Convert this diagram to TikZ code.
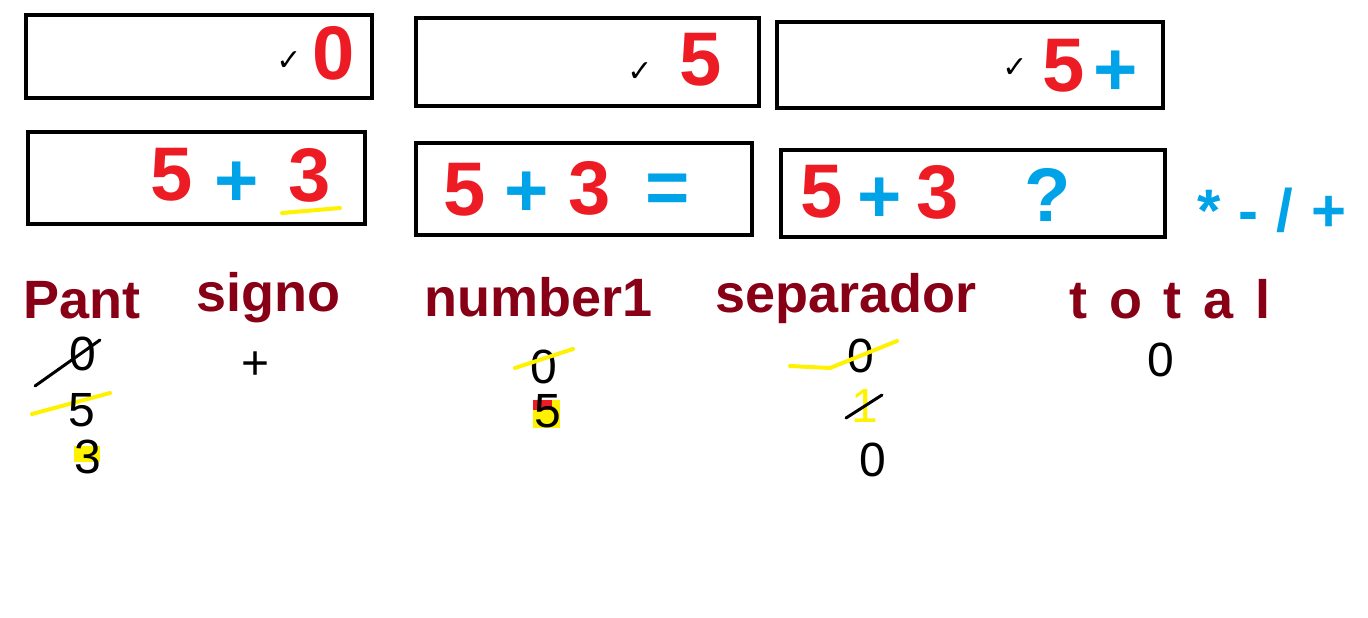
\documentclass[tikz,border=0pt]{standalone}
\usepackage{fontspec}
\setmainfont{Liberation Sans}
\newfontfamily\symfont{DejaVu Sans}
\definecolor{paintred}{HTML}{ED1C24}
\definecolor{paintblue}{HTML}{00A2E8}
\definecolor{paintdark}{HTML}{880015}
\definecolor{paintyellow}{HTML}{FFF200}
\begin{document}
\begin{tikzpicture}[x=1pt,y=-1pt,
  screen/.style={draw,line width=4pt,inner sep=0pt},
  num/.style={text=paintred,font=\fontsize{76}{76}\selectfont\bfseries,inner sep=0pt},
  op/.style={text=paintblue,font=\fontsize{76}{76}\selectfont\bfseries,inner sep=0pt},
  tick/.style={font=\symfont\fontsize{30}{30}\selectfont\bfseries,inner sep=0pt},
  varname/.style={text=paintdark,font=\fontsize{54}{54}\selectfont\bfseries,anchor=base,inner sep=0pt},
  note/.style={font=\fontsize{48}{48}\selectfont,inner sep=0pt},
  hl/.style={draw=paintyellow,line width=4pt,line cap=round},
  strike/.style={draw,line width=3pt,line cap=round}]
\useasboundingbox (0,0) rectangle (1368,618);

% First row of screens
\node[screen,minimum width=346pt,minimum height=83pt] (scrA) at (199,56.5) {};
\node[tick] (tickA) at (289,61) {✓};
\node[num] (numA) at (334,53) {0};

\node[screen,minimum width=343pt,minimum height=88pt] (scrB) at (587.5,62) {};
\node[tick] (tickB) at (640,72) {✓};
\node[num] (numB) at (701,60) {5};

\node[screen,minimum width=386pt,minimum height=86pt] (scrC) at (970,65) {};
\node[tick] (tickC) at (1015,68) {✓};
\node[num] (numC) at (1064,66) {5};
\node[op] (opC) at (1116,73) {+};

% Second row of screens
\node[screen,minimum width=337pt,minimum height=92pt] (scrD) at (196.5,178) {};
\node[num] (numD) at (172,175) {5};
\node[op] (opD) at (237,184) {+};
\node[num] (numDb) at (310,175) {3};
\draw[hl] (282,213) -- (340,208);

\node[screen,minimum width=336pt,minimum height=92pt] (scrE) at (584,189) {};
\node[num] (numE) at (465,190) {5};
\node[op] (opE) at (527,194) {+};
\node[num] (numEb) at (590,188) {3};
\node[op] (opEb) at (668,194) {=};

\node[screen,minimum width=384pt,minimum height=87pt] (scrF) at (973,193.5) {};
\node[num] (numF) at (822,192) {5};
\node[op] (opF) at (880,200) {+};
\node[num] (numFb) at (938,192) {3};
\node[op] (opFb) at (1048,195) {?};
\node[op,font=\fontsize{60}{60}\selectfont\bfseries\addfontfeature{LetterSpace=30}] (ops) at (1272,210) {*-/+};

% Variable names
\node[varname] (pant) at (82,318) {Pant};
\node[varname] (signo) at (268,311) {signo};
\node[varname] (number) at (539,316) {number1};
\node[varname] (separador) at (846,312) {separador};
\node[varname,font=\fontsize{54}{54}\selectfont\bfseries\addfontfeature{LetterSpace=40}] (total) at (1170,318) {total};

% Values under Pant
\node[note] (pant0) at (83,354) {0};
\draw[strike] (35,386) -- (100,340);
\fill[paintyellow] (74,446) rectangle (100,462);
\draw[hl] (32,414) -- (110,393);
\node[note] (pant5) at (82,410) {5};
\node[note] (pant3) at (88,457) {3};

% Value under signo
\node[note] (signoplus) at (256,366) {+};

% Values under number1
\node[note] (num0) at (544,367) {0};
\draw[hl] (515,368) -- (573,349);
\fill[paintyellow] (533,400) rectangle (560,428);
\fill[paintred] (533,400) rectangle (552,410);
\node[note] (num5) at (548,411) {5};

% Values under separador
\node[note] (sep0) at (861,356) {0};
\draw[hl] (790,366) -- (830,368) -- (897,341);
\node[note,text=paintyellow] (sep1) at (865,406) {1};
\draw[strike] (846,418) -- (882,395);
\node[note] (sep0b) at (873,460) {0};

% Value under total
\node[note] (total0) at (1161,360) {0};
\end{tikzpicture}
\end{document}
